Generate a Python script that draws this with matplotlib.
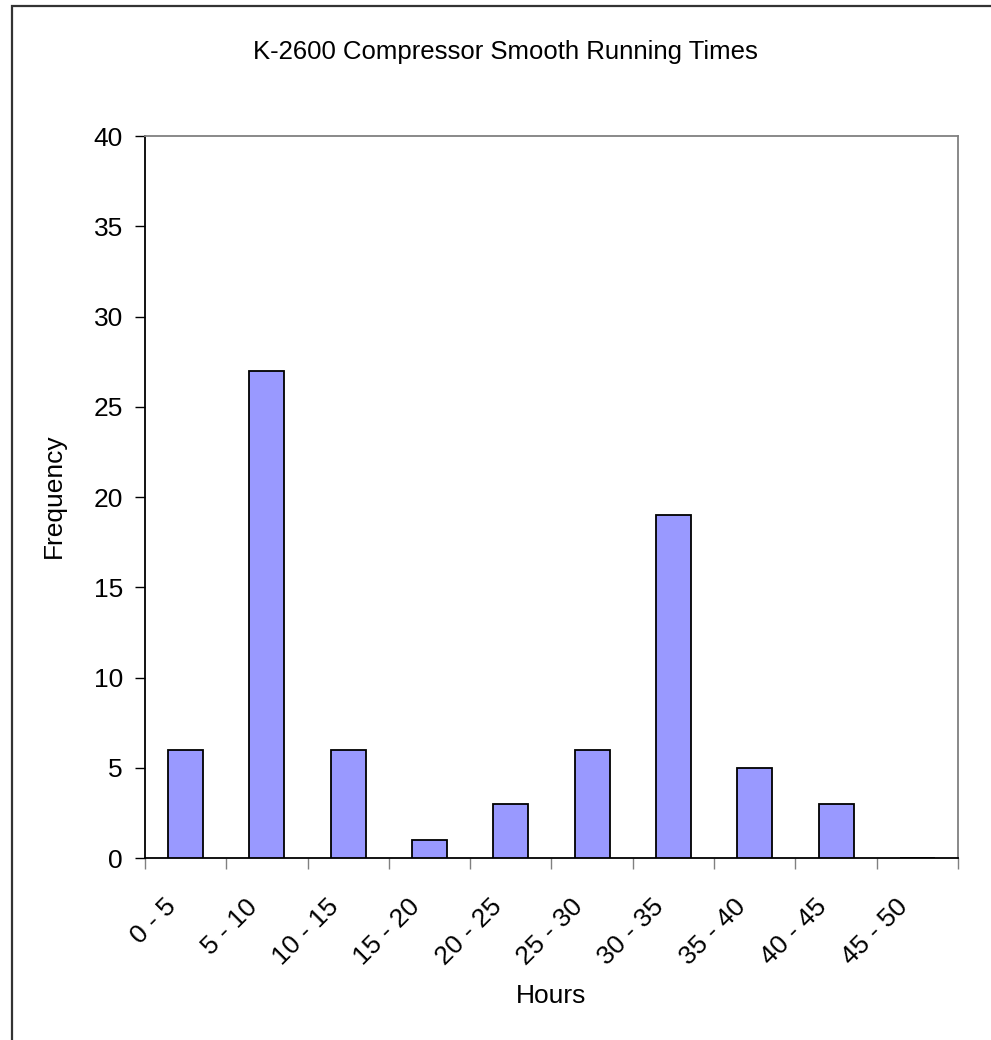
import numpy as np
import matplotlib
matplotlib.use("Agg")
from matplotlib import pyplot as plt
from matplotlib import patches
from matplotlib.transforms import ScaledTranslation

# Histogram of compressor smooth running times (hours between faults)
binLabels = ['0 - 5', '5 - 10', '10 - 15', '15 - 20', '20 - 25',
             '25 - 30', '30 - 35', '35 - 40', '40 - 45', '45 - 50']
frequencies = [6, 27, 6, 1, 3, 6, 19, 5, 3, 0]

plt.rcParams['font.family'] = ['Liberation Sans', 'DejaVu Sans']

fig = plt.figure(figsize=(9.91, 10.4), dpi=100)
ax = fig.add_axes([0.1463, 0.175, 0.8204, 0.6942])

# Chart area frame, running off the right and bottom edges
fig.patches.append(patches.Rectangle((12 / 991., -0.05), 1.2, 1 - 6 / 1040. + 0.05,
                                     transform=fig.transFigure, fill=False,
                                     edgecolor='#333333', linewidth=1.6, zorder=0))

ind = np.arange(len(binLabels))
ax.bar(ind, frequencies, 0.43, color='#9999FF', edgecolor='black', linewidth=1.3, zorder=3)

ax.set_xlim(-0.5, len(binLabels) - 0.5)
ax.set_ylim(0, 40)
ax.set_yticks(np.arange(0, 41, 5))
ax.tick_params(axis='y', direction='out', length=7, width=1, pad=9, labelsize=19)

# Category ticks sit between the bars, labels are drawn separately
ax.set_xticks(np.arange(-0.5, len(binLabels), 1.0))
ax.set_xticklabels([])
ax.tick_params(axis='x', direction='out', length=8, width=1, color='#808080')

offset = ScaledTranslation(-0.13, -0.45, fig.dpi_scale_trans)
for i in range(0, len(binLabels)):
    ax.text(ind[i], 0, binLabels[i], transform=ax.get_xaxis_transform() + offset,
            rotation=45, rotation_mode='anchor', ha='right', va='center', fontsize=19)

ax.spines['left'].set_color('black')
ax.spines['bottom'].set_color('black')
ax.spines['top'].set_color('#808080')
ax.spines['right'].set_color('#808080')
for s in ax.spines.values():
    s.set_linewidth(1.3)

fig.text(505 / 991., 1 - 52.5 / 1040., 'K-2600 Compressor Smooth Running Times',
         ha='center', va='center', fontsize=18.5)
fig.text(54 / 991., 1 - 496 / 1040., 'Frequency', rotation=90,
         ha='center', va='center', fontsize=19)
fig.text(551 / 991., 1 - 996 / 1040., 'Hours', ha='center', va='center', fontsize=19)

plt.savefig('out.png', dpi=100)
plt.clf()
